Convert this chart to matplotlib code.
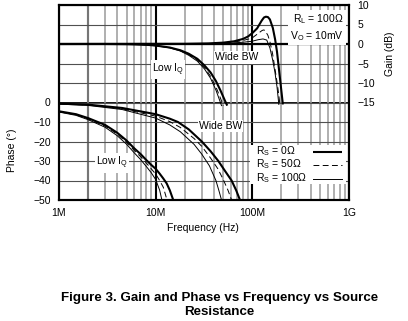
import numpy as np
import matplotlib
matplotlib.use("Agg")
import matplotlib.pyplot as plt
from matplotlib.lines import Line2D
from matplotlib.patches import Rectangle

plt.rcParams['font.family'] = ['Liberation Sans', 'DejaVu Sans']
plt.rcParams['mathtext.fontset'] = 'custom'
plt.rcParams['mathtext.rm'] = 'Liberation Sans'

# ---------------- data (frequency in MHz) ----------------
# Gain, Low IQ
lq_gain_f0 = [1, 3, 5, 8, 10, 14, 18, 22, 27, 32, 37, 42, 47, 52, 55]
lq_gain_0 = [0, 0, -0.05, -0.2, -0.4, -0.9, -1.6, -2.5, -3.8, -5.5, -7.3, -9.5, -12, -14.5, -15.8]
lq_gain_f50 = [1, 3, 5, 8, 10, 14, 18, 22, 27, 32, 37, 42, 47, 50]
lq_gain_50 = [0, 0, -0.05, -0.2, -0.4, -0.9, -1.7, -2.7, -4.1, -6, -8.3, -11, -14, -15.8]
lq_gain_f100 = [1, 3, 5, 8, 10, 14, 18, 22, 27, 32, 37, 42, 46, 48]
lq_gain_100 = [0, 0, -0.05, -0.25, -0.45, -1.0, -1.8, -2.9, -4.4, -6.4, -8.8, -11.8, -14.5, -15.8]

# Gain, Wide BW
wb_gain_f0 = [1, 20, 35, 50, 65, 80, 90, 100, 112, 125, 132, 138, 145, 152, 163, 172, 180, 193, 207]
wb_gain_0 = [0, 0.05, 0.15, 0.35, 0.7, 1.3, 1.9, 2.8, 4.0, 6.0, 6.8, 7.0, 6.9, 6.3, 4.1, 1.2, -2.0, -8.7, -15.5]
wb_gain_f50 = [1, 20, 35, 50, 65, 80, 99, 112, 125, 130, 135, 145, 152, 162, 171, 182, 193]
wb_gain_50 = [0, 0, 0.1, 0.25, 0.5, 0.9, 1.5, 2.5, 3.4, 3.6, 3.5, 2.2, 0.6, -2.5, -6.2, -10.5, -15.5]
wb_gain_f100 = [1, 20, 35, 50, 65, 80, 99, 115, 129, 141, 152, 162, 171, 180, 188]
wb_gain_100 = [0, 0, 0.05, 0.15, 0.3, 0.45, 0.7, 1.1, 1.3, 1.0, -1.0, -4.0, -7.1, -11, -15.5]

# Phase, Low IQ
lq_ph_f0 = [1, 1.5, 2, 3, 4, 5, 6, 7, 8, 9, 10, 11, 12, 13, 14, 15.2]
lq_ph_0 = [-4.5, -6, -8, -11.5, -15.5, -19.5, -23.5, -26.5, -29.5, -32, -34, -36.5, -39, -41.5, -45, -50]
lq_ph_f50 = [1, 1.5, 2, 3, 4, 5, 6, 7, 8, 9, 10, 11, 12, 13.1]
lq_ph_50 = [-4.7, -6.3, -8.4, -12.1, -16.2, -20.4, -24.6, -27.8, -31, -34, -36.7, -40, -43.5, -50]
lq_ph_f100 = [1, 1.5, 2, 3, 4, 5, 6, 7, 8, 9, 10, 11, 11.6]
lq_ph_100 = [-4.9, -6.6, -8.8, -12.7, -17, -21.4, -25.8, -29.3, -32.8, -36, -39.5, -45, -50]

# Phase, Wide BW
wb_ph_f0 = [1, 2, 4.5, 10, 14, 17, 22, 30, 37, 44.5, 52, 61, 68, 74.5]
wb_ph_0 = [-0.6, -1.1, -2.8, -6, -8.3, -10, -13.8, -20, -25, -30, -35, -40, -45, -50]
wb_ph_f50 = [1, 2, 4.5, 10, 14, 18, 25, 30, 37, 44, 50, 56, 61]
wb_ph_50 = [-0.7, -1.3, -3.2, -7, -9.8, -12.8, -18.5, -22.5, -28.5, -34, -39.5, -45, -50]
wb_ph_f100 = [1, 2, 4.5, 10, 14, 18, 25, 30, 36, 42, 45, 48]
wb_ph_100 = [-0.8, -1.5, -3.6, -8, -11.5, -15, -21.5, -26.5, -32.5, -40, -45, -50]

x_ticks = [1, 10, 100, 1000]
x_labels = ['1M', '10M', '100M', '1G']
phase_ticks = [-50, -40, -30, -20, -10, 0, 10, 20, 30, 40, 50]
gain_ticks = [-40, -35, -30, -25, -20, -15, -10, -5, 0, 5, 10]
legend_labels = [r'R$_\mathregular{S}$ = 0Ω', r'R$_\mathregular{S}$ = 50Ω', r'R$_\mathregular{S}$ = 100Ω']

MHZ = 1e6
def hz(v):
    return np.asarray(v) * MHZ

# ---------------- figure ----------------
fig = plt.figure(figsize=(4.08, 3.21), dpi=100)
ax = fig.add_axes([59/408, 1-200/321, 290/408, 195/321])
ax2 = ax.twinx()

ax.set_xscale('log')
ax.set_xlim(1e6, 1e9)
ax.set_ylim(-50, 50)
ax2.set_ylim(-40, 10)

# grid
ax.set_xticks(hz(x_ticks))
ax.set_xticklabels(x_labels)
ax.xaxis.set_minor_locator(matplotlib.ticker.LogLocator(base=10, subs=np.arange(2, 10)))
ax.xaxis.set_minor_formatter(matplotlib.ticker.NullFormatter())
ax.grid(which='minor', axis='x', color='#9a9a9a', lw=1.1)
ax.grid(which='major', axis='x', color='black', lw=1.5)
ax.axvline(2e6, color='black', lw=1.5, zorder=1.5)
ax.set_yticks(phase_ticks)
ax.set_yticklabels([('−%d' % -t if t < 0 else str(t)) if t <= 0 else '' for t in phase_ticks])
ax.grid(which='major', axis='y', color='#505050', lw=0.8)
ax.axhline(0, color='black', lw=1.3, zorder=1.5)
ax2.axhline(0, color='black', lw=1.6, zorder=1.5)
ax2.set_yticks(gain_ticks)
ax2.set_yticklabels([(('−%d' % -t) if t < 0 else str(t)) if t >= -15 else '' for t in gain_ticks])

for a in (ax, ax2):
    a.tick_params(which='both', length=0, labelsize=7.5)
    for s in a.spines.values():
        s.set_linewidth(1.5)
ax.tick_params(axis='x', pad=6)
ax.tick_params(axis='y', pad=6)
ax2.tick_params(axis='y', pad=6)

thick = dict(color='black', lw=1.5, solid_capstyle='butt')
dash = dict(color='black', lw=0.7, dashes=(6, 3.5))
thin = dict(color='black', lw=0.7)
styles = [thick, dash, thin]

# phase curves
ax.plot(hz(lq_ph_f0), lq_ph_0, **thick)
ax.plot(hz(lq_ph_f50), lq_ph_50, **dash)
ax.plot(hz(lq_ph_f100), lq_ph_100, **thin)
ax.plot(hz(wb_ph_f0), wb_ph_0, **thick)
ax.plot(hz(wb_ph_f50), wb_ph_50, **dash)
ax.plot(hz(wb_ph_f100), wb_ph_100, **thin)

# gain curves
ax2.plot(hz(lq_gain_f0), lq_gain_0, **thick)
ax2.plot(hz(lq_gain_f50), lq_gain_50, **dash)
ax2.plot(hz(lq_gain_f100), lq_gain_100, **thin)
ax2.plot(hz(wb_gain_f0), wb_gain_0, **thick)
ax2.plot(hz(wb_gain_f50), wb_gain_50, **dash)
ax2.plot(hz(wb_gain_f100), wb_gain_100, **thin)

box = dict(facecolor='white', edgecolor='none', pad=1.0)
fs = 7.5
T = ax.transData
ax2.text(9.15e6, 16.7, r'Low I$_\mathregular{Q}$', transform=T, fontsize=fs, ha='left', va='center', bbox=box, zorder=10)
ax2.text(41e6, 23.2, 'Wide BW', transform=T, fontsize=fs, ha='left', va='center', bbox=box, zorder=10)
ax2.text(28e6, -12, 'Wide BW', transform=T, fontsize=fs, ha='left', va='center', bbox=box, zorder=10)
ax2.text(2.41e6, -31, r'Low I$_\mathregular{Q}$', transform=T, fontsize=fs, ha='left', va='center', bbox=box, zorder=10)
ax2.text(0.982, 0.965, 'R$_\\mathregular{L}$ = 100Ω\nV$_\\mathregular{O}$ = 10mV', transform=ax2.transAxes,
         fontsize=fs, ha='right', va='top', linespacing=1.35,
         bbox=dict(facecolor='white', edgecolor='none', pad=1.5), zorder=10)

# legend (text left, line sample right), drawn in axes coordinates
AT = ax2.transAxes
ax2.add_patch(Rectangle((0.659, 0.082), 0.331, 0.2, transform=AT, facecolor='white',
                        edgecolor='none', zorder=15))
row_y = [0.251, 0.182, 0.113]
for lab, st, yy in zip(legend_labels, styles, row_y):
    ax2.text(0.679, yy, lab, transform=AT, fontsize=fs, ha='left', va='center', zorder=16)
    ax2.add_line(Line2D([0.876, 0.976], [yy - 0.004, yy - 0.004], transform=AT, zorder=16, **st))

ax.set_ylabel('Phase (°)', fontsize=fs)
ax.yaxis.set_label_coords(-0.145, 0.256)
ax2.set_ylabel('Gain (dB)', fontsize=fs)
ax2.yaxis.set_label_coords(1.124, 0.751)
ax.set_xlabel('Frequency (Hz)', fontsize=fs)
ax.xaxis.set_label_coords(0.497, -0.12)

fig.text(0.537, 0.05, 'Figure 3. Gain and Phase vs Frequency vs Source\nResistance',
         ha='center', va='center', fontsize=9.6, fontweight='bold', linespacing=1.15)

fig.savefig('out.png', dpi=100)
